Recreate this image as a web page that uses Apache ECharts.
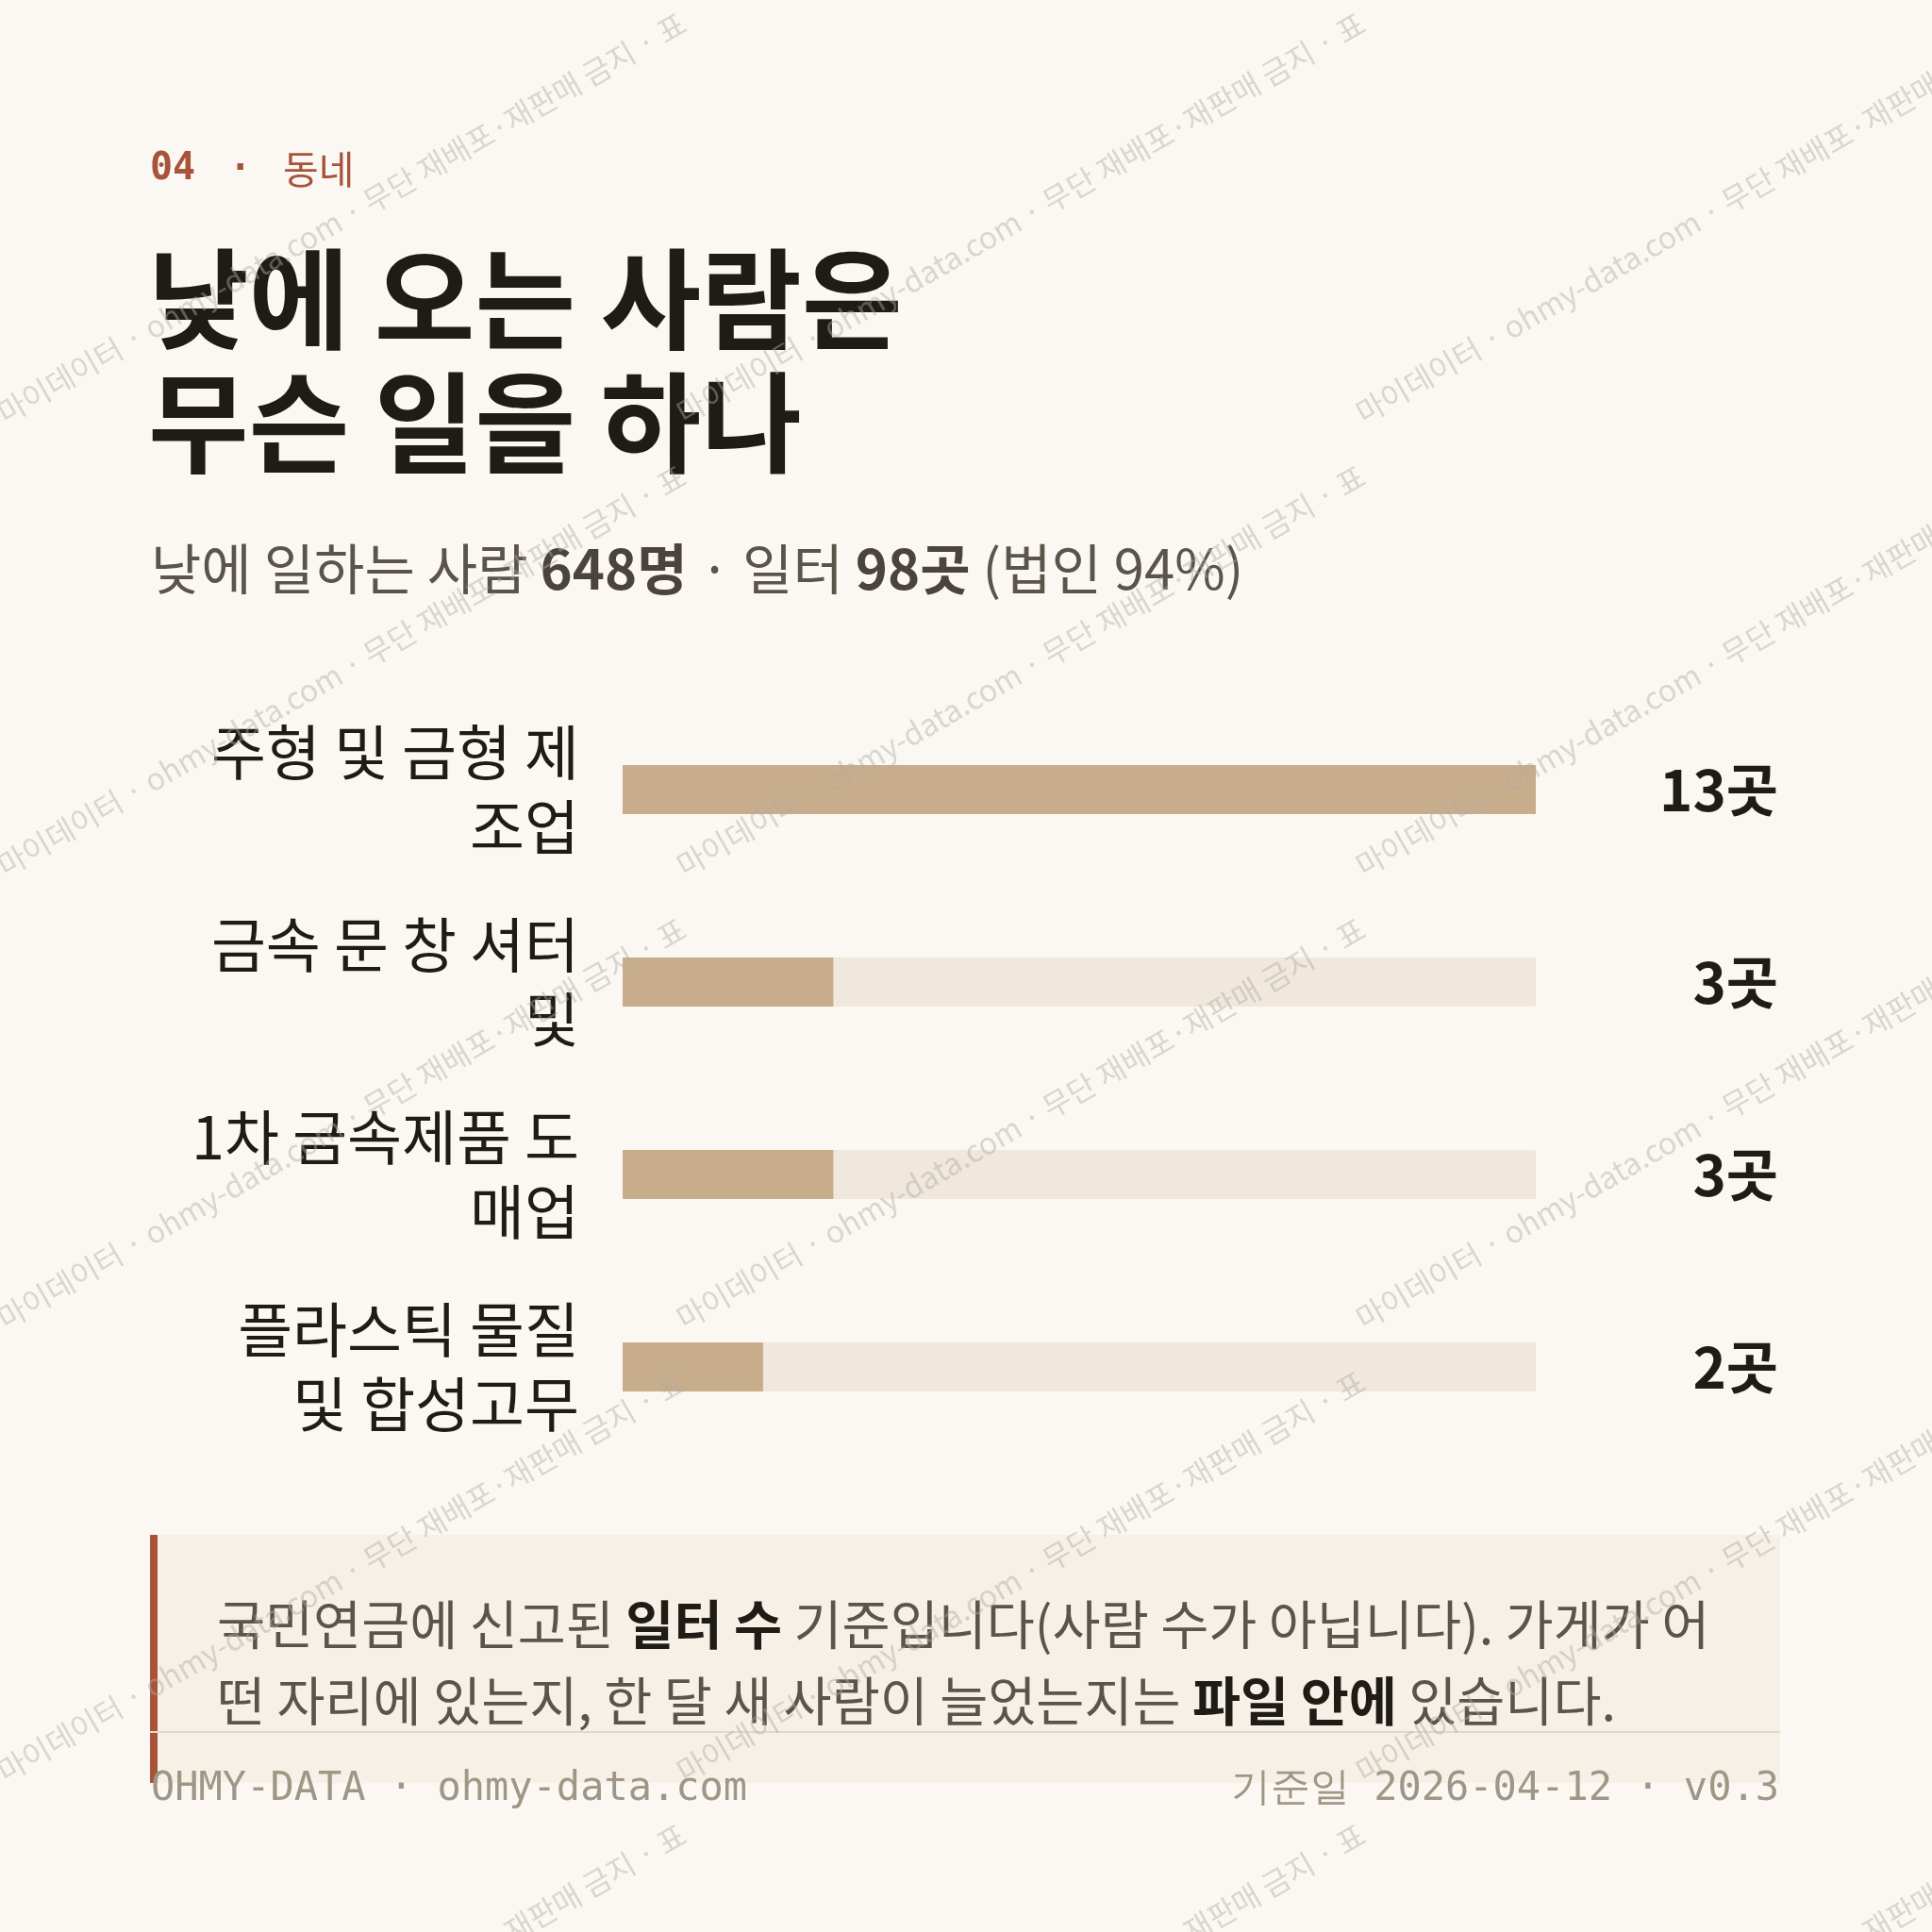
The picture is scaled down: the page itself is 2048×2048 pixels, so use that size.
<!DOCTYPE html>
<html><head><meta charset="utf-8">
<script src="https://cdn.jsdelivr.net/npm/echarts@6/dist/echarts.min.js"></script>
<style>html,body{margin:0;padding:0;background:#fbf8f3}#c{width:2048px;height:2048px}</style>
</head><body><div id="c"></div>
<script>
// ---- data ----
const categories = ['주형 및 금형 제\n조업', '금속 문 창 셔터\n및', '1차 금속제품 도\n매업', '플라스틱 물질\n및 합성고무'];
const values = [13, 3, 3, 2];
const valueUnit = '곳';
const kickerNum = '04';
const kickerWord = '동네';
const titleLines = ['낮에 오는 사람은', '무슨 일을 하나'];
const subtitleParts = [['n', '낮에 일하는 사람 '], ['b', '648명'], ['n', ' · 일터 '], ['b', '98곳'], ['n', ' (법인 94%)']];
const noteLine1 = [['n', '국민연금에 신고된 '], ['b', '일터 수'], ['n', ' 기준입니다(사람 수가 아닙니다). 가게가 어']];
const noteLine2 = [['n', '떤 자리에 있는지, 한 달 새 사람이 늘었는지는 '], ['b', '파일 안에'], ['n', ' 있습니다.']];
const footerLeft = 'OHMY-DATA · ohmy-data.com';
const footerRight = '기준일 2026-04-12 · v0.3';
const watermarkText = '마이데이터 · ohmy-data.com · 무단 재배포·재판매 금지 · 표';

// ---- style ----
const KR = '"Noto Sans CJK KR", "Noto Sans", sans-serif';
const MONO = '"DejaVu Sans Mono", "Liberation Mono", monospace';
const INK = '#1f1b16', SUB = '#5b544b', ACCENT = '#a8533a';

const maxVal = Math.max(...values);
const chart = echarts.init(document.getElementById('c'), null, {renderer: 'canvas', width: 2048, height: 2048});

function rich(parts) { return parts.map(p => '{' + p[0] + '|' + p[1] + '}').join(''); }

const graphics = [];
// kicker
graphics.push({type: 'text', x: 159, y: 180, style: {text: kickerNum, font: 'bold 40px ' + MONO, fill: ACCENT, textVerticalAlign: 'middle'}});
graphics.push({type: 'text', x: 243, y: 180, style: {text: '·', font: 'bold 39px ' + MONO, fill: ACCENT, textVerticalAlign: 'middle'}});
graphics.push({type: 'text', x: 300, y: 179, style: {text: kickerWord, font: '41px ' + KR, fill: ACCENT, textVerticalAlign: 'middle'}});
// title
titleLines.forEach((t, i) => graphics.push({type: 'text', x: 157, y: 317 + i * 131,
  style: {text: t, font: 'bold 116px ' + KR, fill: INK, textVerticalAlign: 'middle'}}));
// subtitle
graphics.push({type: 'text', x: 160, y: 603, style: {text: rich(subtitleParts), textVerticalAlign: 'middle',
  rich: {n: {fontSize: 58, fontFamily: KR, fill: SUB}, b: {fontSize: 58, fontFamily: KR, fontWeight: 'bold', fill: '#4a443c'}}}});
// note box
graphics.push({type: 'rect', shape: {x: 159, y: 1627, width: 1728, height: 263}, style: {fill: '#f6f0e6'}, z: 0});
graphics.push({type: 'rect', shape: {x: 159, y: 1627, width: 8, height: 263}, style: {fill: ACCENT}, z: 1});
graphics.push({type: 'text', x: 230, y: 1681, style: {text: rich(noteLine1) + '\n' + rich(noteLine2), textVerticalAlign: 'top',
  rich: {n: {fontSize: 55.5, lineHeight: 81, fontFamily: KR, fill: SUB}, b: {fontSize: 55.5, lineHeight: 81, fontFamily: KR, fontWeight: 'bold', fill: INK}}}, z: 2});
// footer rule
graphics.push({type: 'rect', shape: {x: 159, y: 1835, width: 1728, height: 2}, style: {fill: '#e2d9cb'}, z: 2});
// footer
graphics.push({type: 'text', x: 160, y: 1897, style: {text: footerLeft, font: '42px ' + MONO, fill: '#a09686', textVerticalAlign: 'middle'}, z: 3});
graphics.push({type: 'text', x: 1886, y: 1897, style: {text: footerRight, font: '42px ' + MONO, fill: '#a09686', textVerticalAlign: 'middle', textAlign: 'right'}, z: 3});
// watermark tiles
for (let i = 0; i < 3; i++) {
  for (let j = 0; j < 5; j++) {
    graphics.push({type: 'text', x: i * 720, y: 440 + j * 480, rotation: Math.PI / 6, silent: true, z: 100,
      style: {text: watermarkText, font: '32px ' + KR, fill: 'rgba(175,170,165,0.45)', textVerticalAlign: 'middle', textAlign: 'left'}});
  }
}

chart.setOption({
  backgroundColor: '#fbf8f3',
  animation: false,
  grid: {left: 660, width: 968, top: 735, height: 816, containLabel: false, outerBoundsMode: 'none'},
  xAxis: {type: 'value', min: 0, max: maxVal, show: false},
  yAxis: {type: 'category', data: categories, inverse: true,
    axisLine: {show: false}, axisTick: {show: false}, splitLine: {show: false},
    axisLabel: {fontSize: 63, lineHeight: 79, color: INK, margin: 46, fontFamily: KR, align: 'right'}},
  series: [
    {type: 'bar', name: 'track', data: values.map(() => maxVal), barWidth: 52, barGap: '-100%', silent: true,
      itemStyle: {color: '#f0e8dc'}, z: 1,
      label: {show: true, position: 'right', distance: 257, align: 'right', verticalAlign: 'middle',
        formatter: p => values[p.dataIndex] + valueUnit, fontSize: 60, fontWeight: 'bold', color: INK, fontFamily: KR}},
    {type: 'bar', name: 'value', data: values, barWidth: 52, barGap: '-100%', itemStyle: {color: '#c8ad8c'}, z: 2}
  ],
  graphic: graphics
});
</script></body></html>
